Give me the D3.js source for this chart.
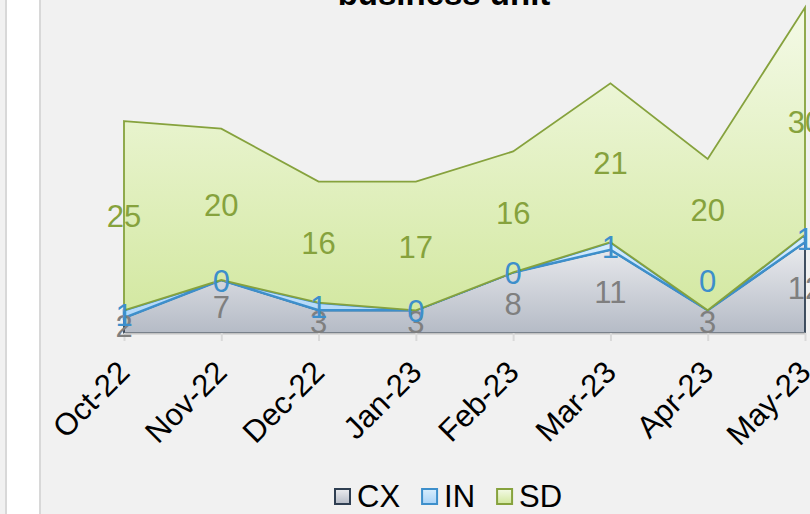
<!DOCTYPE html>
<html lang="en">

<head>
    <meta charset="UTF-8">
    <title>business unit</title>
    <script src="https://cdnjs.cloudflare.com/ajax/libs/d3/7.8.5/d3.min.js"></script>
    <style>
        body {
            margin: 0;
            background: #f1f1f1;
        }

        svg {
            display: block;
            font-family: "Liberation Sans", Arial, sans-serif;
        }

        .label {
            font-size: 31px;
            text-anchor: middle;
        }

        .legend text {
            font-size: 31px;
            fill: #000;
        }
    </style>
</head>

<body>
    <div class="chart"></div>
    <script>
        // values
        var months = ["Oct-22", "Nov-22", "Dec-22", "Jan-23", "Feb-23", "Mar-23", "Apr-23", "May-23"];
        var seriesNames = ["CX", "IN", "SD"];
        var cxValues = [2, 7, 3, 3, 8, 11, 3, 12];
        var inValues = [1, 0, 1, 0, 0, 1, 0, 1];
        var sdValues = [25, 20, 16, 17, 16, 21, 20, 30];

        var width = 810,
            height = 514;

        var colors = {
            CX: { line: "#2f3f52", top: "#ebecef", bottom: "#b5bbc6", label: "#7f7f7f" },
            IN: { line: "#3d8fcb", top: "#d9eefd", bottom: "#a9d3f7", label: "#3d8fcb" },
            SD: { line: "#86a23d", top: "#f4fae7", bottom: "#d1e79d", label: "#86a23d" }
        };

        // excel lifts a couple of labels out of the V at Apr (in value units)
        var labelLift = { IN: { "Apr-23": 4 }, SD: { "Apr-23": 3.4 } };

        var rows = months.map(function(m, i) {
            return { month: m, CX: cxValues[i], IN: inValues[i], SD: sdValues[i] };
        });

        var svg = d3.select(".chart").append("svg")
            .attr("width", width)
            .attr("height", height);

        // frame on the left edge
        svg.append("rect").attr("width", width).attr("height", height).attr("fill", "#f1f1f1");
        svg.append("rect").attr("x", 7).attr("width", 32).attr("height", height).attr("fill", "#fff");
        svg.append("rect").attr("x", 5).attr("width", 2).attr("height", height).attr("fill", "#d8d8d8");
        svg.append("rect").attr("x", 39).attr("width", 2).attr("height", height).attr("fill", "#d8d8d8");

        var x = d3.scalePoint()
            .domain(months)
            .range([124, 805]);

        var y = d3.scaleLinear()
            .domain([0, 44])
            .range([333, 0]);

        var stack = d3.stack().keys(seriesNames);
        var layers = stack(rows);

        var defs = svg.append("defs");
        layers.forEach(function(layer) {
            var c = colors[layer.key];
            var top = d3.min(layer, function(d) { return y(d[1]); });
            var grad = defs.append("linearGradient")
                .attr("id", "grad-" + layer.key)
                .attr("gradientUnits", "userSpaceOnUse")
                .attr("x1", 0).attr("x2", 0)
                .attr("y1", top).attr("y2", y(0));
            grad.append("stop").attr("offset", "0%").attr("stop-color", c.top);
            grad.append("stop").attr("offset", "100%").attr("stop-color", c.bottom);
        });

        var area = d3.area()
            .x(function(d) { return x(d.data.month); })
            .y0(function(d) { return y(d[0]); })
            .y1(function(d) { return y(d[1]); });

        svg.append("g")
            .selectAll("path")
            .data(layers)
            .enter()
            .append("path")
            .attr("d", area)
            .attr("fill", function(d) { return "url(#grad-" + d.key + ")"; })
            .attr("stroke", function(d) { return colors[d.key].line; })
            .attr("stroke-width", function(d) { return d.key == "IN" ? 2.5 : 1.8; });

        // category axis
        var xAxis = svg.append("g")
            .attr("class", "axis")
            .attr("transform", "translate(0,333)")
            .call(d3.axisBottom(x).tickSize(8).tickSizeOuter(0));

        xAxis.select(".domain").attr("stroke", "#c3c3c3").attr("stroke-width", 2);
        xAxis.selectAll(".tick line").attr("stroke", "#d9d9d9").attr("stroke-width", 2);
        xAxis.selectAll(".tick text")
            .attr("x", 0)
            .attr("y", 0)
            .attr("dy", 0)
            .attr("fill", "#000")
            .attr("font-family", "Liberation Sans, Arial, sans-serif")
            .attr("font-size", 31)
            .attr("text-anchor", "end")
            .attr("transform", "translate(7,41) rotate(-45)");

        // data labels in the middle of each band
        layers.forEach(function(layer) {
            var lift = labelLift[layer.key] || {};
            svg.append("g")
                .selectAll("text")
                .data(layer)
                .enter()
                .append("text")
                .attr("class", "label")
                .attr("x", function(d) { return x(d.data.month); })
                .attr("y", function(d) {
                    return y((d[0] + d[1]) / 2 + (lift[d.data.month] || 0));
                })
                .attr("dy", "0.38em")
                .attr("fill", colors[layer.key].label)
                .text(function(d) { return d.data[layer.key]; });
        });

        // title, mostly cut off at the top
        svg.append("text")
            .attr("x", 444)
            .attr("y", 5)
            .attr("text-anchor", "middle")
            .attr("font-size", 33)
            .attr("font-weight", "bold")
            .attr("fill", "#000")
            .text("business unit");

        // legend
        var legend = svg.append("g").attr("class", "legend");
        var cursor = 334;
        seriesNames.forEach(function(name) {
            var c = colors[name];
            var lg = defs.append("linearGradient")
                .attr("id", "legend-" + name)
                .attr("x1", 0).attr("x2", 0).attr("y1", 0).attr("y2", 1);
            lg.append("stop").attr("offset", "0%").attr("stop-color", c.top);
            lg.append("stop").attr("offset", "100%").attr("stop-color", c.bottom);
            legend.append("rect")
                .attr("x", cursor + 1)
                .attr("y", 489)
                .attr("width", 15)
                .attr("height", 15)
                .attr("fill", "url(#legend-" + name + ")")
                .attr("stroke", c.line)
                .attr("stroke-width", 2);
            var t = legend.append("text")
                .attr("x", cursor + 23)
                .attr("y", 507)
                .text(name);
            cursor = cursor + 23 + t.node().getComputedTextLength() + 21;
        });
    </script>
</body>

</html>
